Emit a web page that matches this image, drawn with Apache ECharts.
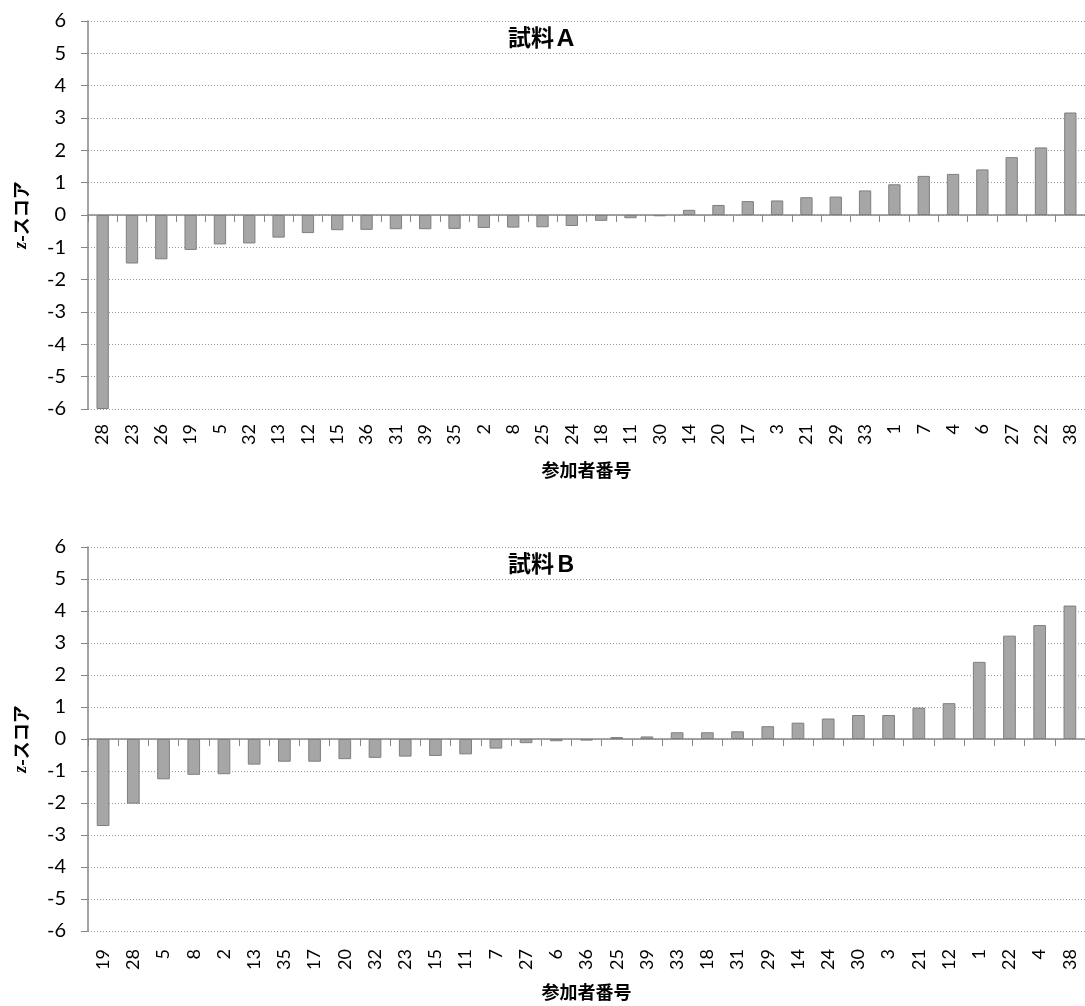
<!DOCTYPE html>
<html>
<head>
<meta charset="utf-8">
<script src="https://cdn.jsdelivr.net/npm/echarts@6/dist/echarts.min.js"></script>
<style>
  html, body { margin: 0; padding: 0; background: #fff; }
  #chart { width: 1085px; height: 1006px; }
</style>
</head>
<body>
<div id="chart"></div>
<script>
// Sample A: participants sorted by z-score
const participantsA = ['28','23','26','19','5','32','13','12','15','36','31','39','35','2','8','25','24','18','11','30','14','20','17','3','21','29','33','1','7','4','6','27','22','38'];
const zScoresA = [-6.0,-1.50,-1.37,-1.08,-0.91,-0.88,-0.70,-0.56,-0.47,-0.46,-0.44,-0.44,-0.43,-0.40,-0.39,-0.38,-0.34,-0.18,-0.10,-0.04,0.16,0.31,0.43,0.45,0.55,0.57,0.76,0.95,1.21,1.27,1.41,1.79,2.09,3.17];

// Sample B: participants sorted by z-score
const participantsB = ['19','28','5','8','2','13','35','17','20','32','23','15','11','7','27','6','36','25','39','33','18','31','29','14','24','30','3','21','12','1','22','4','38'];
const zScoresB = [-2.72,-2.02,-1.26,-1.12,-1.10,-0.80,-0.71,-0.71,-0.63,-0.59,-0.55,-0.53,-0.48,-0.30,-0.13,-0.07,-0.05,0.06,0.08,0.21,0.21,0.24,0.40,0.51,0.64,0.75,0.75,0.98,1.12,2.41,3.23,3.56,4.17];

const panelTitles = ['試料Ａ', '試料Ｂ'];
const xAxisTitle = '参加者番号';
const yTicks = { min: -6, max: 6, interval: 1 };

const latin = 'Lato, "Open Sans", sans-serif';
const cjk = '"Noto Sans CJK JP", sans-serif';
const axisGrey = '#868686';

const grids = [
  { left: 88, top: 21, width: 997, height: 388 },
  { left: 88, top: 547, width: 997, height: 384 }
];

function xAxesFor(gridIndex, cats) {
  return [
    { // axis line through zero with tick marks between bars
      type: 'category', gridIndex, data: cats, position: 'bottom',
      axisLine: { onZero: true, lineStyle: { color: axisGrey, width: 1.5 } },
      axisTick: { show: true, length: 7, lineStyle: { color: axisGrey } },
      axisLabel: { show: false },
      splitLine: { show: false }
    },
    { // participant labels along the bottom edge
      type: 'category', gridIndex, data: cats, position: 'bottom',
      axisLine: { show: false, onZero: false },
      axisTick: { show: false },
      axisLabel: { show: true, rotate: 90, margin: gridIndex === 0 ? 15 : 18, fontFamily: latin, fontSize: 18, color: '#000', interval: 0 },
      name: xAxisTitle, nameLocation: 'middle', nameGap: 52,
      nameTextStyle: { fontFamily: cjk, fontSize: 18, fontWeight: 'bold', color: '#000' },
      splitLine: { show: false }
    }
  ];
}

function yAxisFor(gridIndex) {
  return {
    type: 'value', gridIndex, min: yTicks.min, max: yTicks.max, interval: yTicks.interval,
    axisLine: { show: true, lineStyle: { color: axisGrey, width: 1.5 } },
    axisTick: { show: true, length: 7, lineStyle: { color: axisGrey } },
    axisLabel: { margin: 22, fontFamily: latin, fontSize: 20, color: '#000' },
    splitLine: { show: true, lineStyle: { color: '#9a9a9a', width: 1, type: [1, 2] } },
    name: '{i|z}-スコア', nameLocation: 'middle', nameGap: 58,
    nameTextStyle: {
      fontFamily: cjk, fontSize: 18, fontWeight: 'bold', color: '#000',
      rich: {
        i: { fontFamily: '"Liberation Serif", serif', fontStyle: 'italic', fontWeight: 'bold', fontSize: 18, color: '#000' }
      }
    }
  };
}

const barStyle = { color: '#a6a6a6', borderColor: '#7f7f7f', borderWidth: 1 };

const option = {
  animation: false,
  backgroundColor: '#fff',
  title: [
    { text: panelTitles[0], left: 'center', top: 26, padding: 0,
      textStyle: { fontFamily: cjk, fontSize: 23, fontWeight: 'bold', color: '#000' } },
    { text: panelTitles[1], left: 'center', top: 552, padding: 0,
      textStyle: { fontFamily: cjk, fontSize: 23, fontWeight: 'bold', color: '#000' } }
  ],
  grid: grids,
  xAxis: [...xAxesFor(0, participantsA), ...xAxesFor(1, participantsB)],
  yAxis: [yAxisFor(0), yAxisFor(1)],
  series: [
    { type: 'bar', xAxisIndex: 0, yAxisIndex: 0, data: zScoresA, barWidth: '42%', itemStyle: barStyle },
    { type: 'bar', xAxisIndex: 2, yAxisIndex: 1, data: zScoresB, barWidth: '42%', itemStyle: barStyle }
  ]
};

const chart = echarts.init(document.getElementById('chart'), null, { renderer: 'canvas' });
chart.setOption(option);
</script>
</body>
</html>
